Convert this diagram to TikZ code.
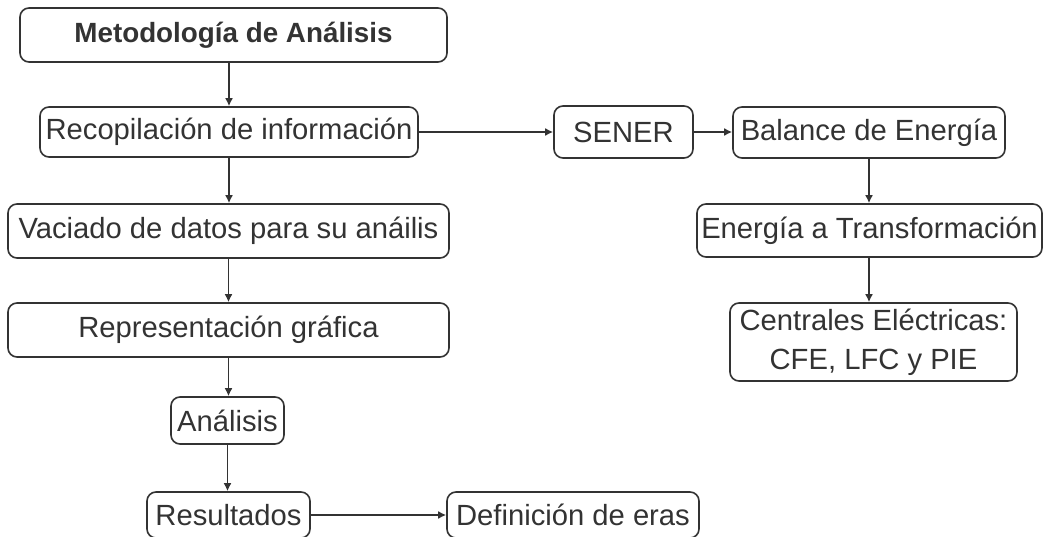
\documentclass[tikz,border=0pt]{standalone}
\usepackage{fontspec}
\setmainfont{Liberation Sans}
\usetikzlibrary{arrows.meta}
\definecolor{ink}{HTML}{333333}
\begin{document}
\begin{tikzpicture}[x=1pt,y=-1pt,
  box/.style={draw=ink, line width=1.6pt, rounded corners=9pt, inner sep=0pt,
    text=ink, font=\fontsize{29.2}{39}\selectfont, align=center},
  arr/.style={draw=ink, line width=1.7pt, -{Latex[length=8pt,width=8pt]}}]
\useasboundingbox[fill=white] (0,0) rectangle (1045,537);
% left column
\node[box, minimum width=427pt, minimum height=54pt, font=\fontsize{27.8}{34}\selectfont\bfseries] (title) at (233.5,35) {Metodología de Análisis};
\node[box, minimum width=378pt, minimum height=50pt] (recop) at (229,132) {Recopilación de información};
\node[box, minimum width=441pt, minimum height=54pt] (vaciado) at (228.5,231) {Vaciado de datos para su anáilis};
\node[box, minimum width=441pt, minimum height=54pt] (repres) at (228.5,330) {Representación gráfica};
\node[box, minimum width=113pt, minimum height=47pt] (analisis) at (227.5,420.5) {Análisis};
\node[box, minimum width=163pt, minimum height=46pt] (result) at (228.5,515) {Resultados};
\node[box, minimum width=252pt, minimum height=46pt] (defin) at (573,515) {Definición de eras};
% right column
\node[box, minimum width=139pt, minimum height=52pt] (sener) at (623.5,132) {SENER};
\node[box, minimum width=272pt, minimum height=51pt] (balance) at (869,132.5) {Balance de Energía};
\node[box, minimum width=345pt, minimum height=53pt] (energia) at (869.5,230.5) {Energía a Transformación};
\node[box, minimum width=287pt, minimum height=78pt] (centrales) at (873.5,342) {Centrales Eléctricas:\\CFE, LFC y PIE};
% connectors
\draw[arr] (title.south -| recop.north) -- (recop.north);
\draw[arr] (recop.south) -- (recop.south |- vaciado.north);
\draw[arr] (vaciado.south) -- (vaciado.south |- repres.north);
\draw[arr] (repres.south) -- (repres.south |- analisis.north);
\draw[arr] (analisis.south) -- (analisis.south |- result.north);
\draw[arr] (result.east) -- (defin.west);
\draw[arr] (recop.east) -- (sener.west);
\draw[arr] (sener.east) -- (sener.east -| balance.west);
\draw[arr] (balance.south) -- (balance.south |- energia.north);
\draw[arr] (energia.south -| balance.south) -- (balance.south |- centrales.north);
\end{tikzpicture}
\end{document}
